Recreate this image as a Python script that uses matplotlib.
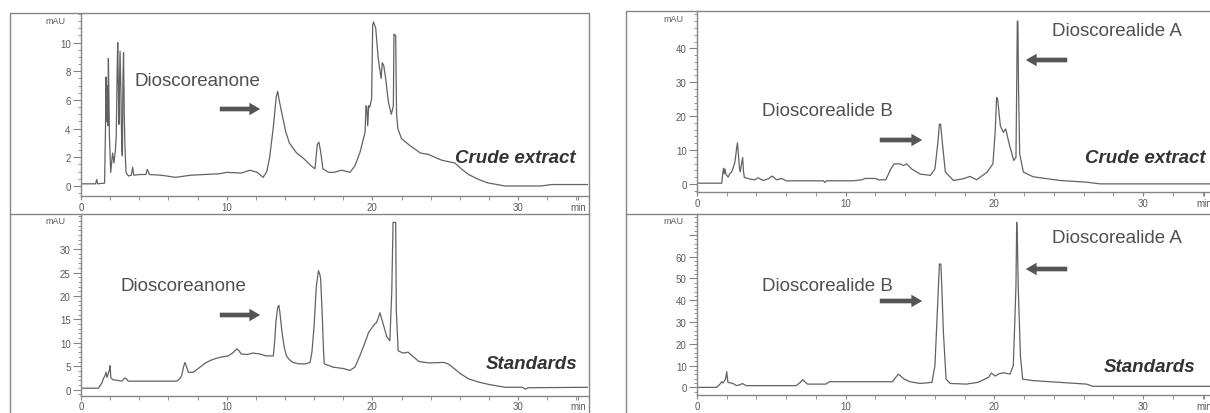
import matplotlib
matplotlib.use("Agg")
import matplotlib.pyplot as plt
from matplotlib.patches import Rectangle, FancyArrowPatch
from matplotlib.lines import Line2D
from matplotlib.ticker import MultipleLocator

plt.rcParams['font.family'] = ['Liberation Sans', 'DejaVu Sans']

# --- chromatogram traces (time in min, signal in mAU) ---
crude_dn_t = [0.0, 1.0, 1.08, 1.14, 1.62, 1.68, 1.72, 1.76, 1.8, 1.84, 1.88, 1.92, 1.95, 2.04,
              2.12, 2.17, 2.26, 2.36, 2.42, 2.48, 2.52, 2.57, 2.6, 2.64, 2.68, 2.74, 2.8, 2.84,
              2.88, 2.92, 2.97, 3.02, 3.09, 3.25, 3.45, 3.55, 3.62, 4.05, 4.45, 4.55, 4.7, 5.5,
              6.5, 7.5, 8.5, 9.5, 10.0, 11.0, 11.6, 12.1, 12.5, 12.75, 12.95, 13.2, 13.4, 13.5,
              13.6, 13.8, 14.05, 14.3, 14.8, 15.3, 15.8, 16.06, 16.22, 16.33, 16.45, 16.6, 17.0,
              17.35, 17.9, 18.46, 18.8, 19.15, 19.5, 19.56, 19.62, 19.68, 19.75, 19.82, 19.95,
              20.02, 20.08, 20.23, 20.4, 20.6, 20.68, 20.78, 20.9, 21.1, 21.3, 21.44, 21.48,
              21.6, 21.66, 21.75, 22.0, 22.6, 23.3, 23.85, 24.75, 25.66, 26.1, 26.6, 27.3, 27.9,
              29.1, 30.5, 31.6, 32.3, 34.8]
crude_dn_v = [0.15, 0.15, 0.45, 0.15, 0.2, 4.0, 7.6, 4.5, 7.0, 4.2, 8.9, 6.0, 3.5, 0.95,
              1.8, 2.3, 1.6, 2.5, 3.5, 8.0, 10.0, 6.5, 4.3, 7.0, 9.4, 6.5, 2.5, 2.1,
              7.5, 9.3, 5.0, 2.6, 0.95, 0.7, 0.75, 1.3, 0.75, 0.8, 0.8, 1.15, 0.8, 0.75,
              0.6, 0.75, 0.8, 0.85, 0.95, 0.9, 1.1, 0.95, 0.6, 1.0, 2.0, 4.1, 6.2, 6.6,
              6.0, 5.0, 3.8, 3.0, 2.3, 1.9, 1.4, 1.2, 2.9, 3.05, 2.4, 1.2, 0.95,
              0.95, 1.1, 0.95, 1.4, 2.35, 3.75, 5.6, 5.5, 4.2, 5.6, 5.5, 6.1,
              11.2, 11.45, 11.0, 8.9, 7.5, 8.6, 8.4, 7.6, 5.85, 5.0, 5.6, 10.6,
              10.5, 5.0, 4.0, 3.3, 2.8, 2.3, 2.2, 1.8, 1.6, 1.2, 0.8, 0.45, 0.22,
              0.0, 0.0, 0.0, 0.1, 0.1]

std_dn_t = [0.0, 1.19, 1.45, 1.53, 1.65, 1.72, 1.78, 1.85, 1.95, 1.99, 2.05, 2.2, 2.45, 2.8,
            2.95, 3.03, 3.15, 3.25, 4.0, 5.0, 6.0, 6.57, 6.8, 6.91, 7.05, 7.14, 7.25, 7.37,
            7.71, 8.17, 8.5, 8.86, 9.2, 9.54, 10.1, 10.4, 10.7, 10.85, 11.0, 11.4, 11.8, 12.3,
            12.7, 13.2, 13.3, 13.38, 13.5, 13.58, 13.65, 13.8, 13.95, 14.1, 14.3, 14.55, 14.96,
            15.4, 15.72, 15.85, 16.0, 16.15, 16.3, 16.4, 16.45, 16.56, 16.65, 16.7, 17.3, 18.0,
            18.46, 18.8, 19.15, 19.5, 19.74, 20.08, 20.3, 20.52, 20.75, 21.0, 21.2, 21.33,
            21.42, 21.6, 21.64, 21.77, 22.1, 22.45, 22.7, 23.2, 23.85, 24.9, 25.2, 25.5, 26.0,
            26.6, 27.3, 28.0, 29.1, 30.3, 30.5, 30.7, 34.8]
std_dn_v = [0.3, 0.3, 1.5, 2.3, 3.0, 3.7, 2.6, 3.2, 4.2, 5.1, 2.5, 2.1, 2.0, 1.8,
            2.3, 2.5, 2.2, 1.8, 1.8, 1.8, 1.8, 1.8, 2.4, 3.0, 5.0, 5.8, 4.8, 3.7,
            3.7, 4.8, 5.6, 6.2, 6.6, 6.9, 7.2, 7.8, 8.7, 8.3, 7.6, 7.5, 7.8, 7.6,
            7.2, 7.2, 10.5, 14.5, 17.6, 18.0, 16.5, 12.2, 9.0, 7.2, 6.4, 5.8, 5.5,
            5.5, 5.8, 8.0, 13.6, 22.0, 25.4, 24.5, 23.6, 15.8, 8.0, 5.5, 4.8, 4.5,
            4.1, 4.8, 7.3, 10.1, 12.2, 13.7, 14.4, 16.4, 13.9, 11.2, 10.45, 20.8,
            35.7, 35.7, 17.0, 8.3, 7.8, 8.0, 7.3, 6.0, 5.7, 5.8, 5.5, 4.8, 3.5,
            2.3, 1.6, 1.1, 0.5, 0.5, 0.1, 0.4, 0.5]

crude_dl_t = [0.0, 1.66, 1.73, 1.78, 1.83, 1.88, 1.95, 2.1, 2.2, 2.33, 2.45, 2.55, 2.65, 2.72,
              2.78, 2.85, 2.9, 3.0, 3.07, 3.12, 3.18, 3.56, 3.9, 4.1, 4.45, 4.8, 5.06, 5.35,
              5.68, 6.0, 7.5, 8.5, 8.6, 8.7, 10.5, 11.1, 11.3, 12.0, 12.2, 12.7, 13.03, 13.26,
              13.65, 13.9, 14.1, 14.44, 15.0, 15.7, 16.0, 16.2, 16.3, 16.38, 16.5, 16.7, 17.25,
              17.9, 18.35, 18.8, 19.5, 19.9, 20.05, 20.15, 20.22, 20.4, 20.6, 20.75, 20.8, 20.97,
              21.3, 21.45, 21.5, 21.54, 21.58, 21.62, 21.7, 21.95, 22.6, 24.4, 26.2, 27.1, 34.8]
crude_dl_v = [0.2, 0.2, 2.9, 4.6, 3.0, 4.4, 2.8, 2.0, 3.0, 3.5, 5.0, 6.4, 10.0, 12.1,
              8.8, 5.0, 3.5, 6.0, 7.8, 4.0, 1.9, 1.4, 1.2, 1.8, 1.0, 1.5, 2.3, 1.2,
              1.6, 0.9, 0.9, 0.9, 0.4, 0.9, 0.9, 1.2, 1.6, 1.6, 1.2, 1.2, 4.4, 5.9,
              5.9, 5.4, 5.9, 4.4, 2.9, 2.5, 4.4, 12.2, 17.6, 17.6, 12.2, 3.5, 1.0,
              1.5, 2.2, 1.2, 3.4, 5.9, 15.2, 25.5, 25.0, 17.1, 15.2, 16.2, 15.5, 12.2,
              6.9, 7.8, 28.9, 48.0, 48.0, 28.9, 8.8, 3.5, 2.1, 1.0, 0.5, 0.0, 0.0]

std_dl_t = [0.0, 1.32, 1.55, 1.66, 1.75, 1.85, 1.92, 2.0, 2.08, 2.42, 2.65, 2.9, 3.05, 3.3,
            6.66, 6.9, 7.1, 7.44, 8.67, 8.9, 13.14, 13.35, 13.55, 13.93, 14.32, 15.0, 15.8,
            16.0, 16.17, 16.3, 16.4, 16.46, 16.57, 16.75, 17.03, 18.1, 18.9, 19.6, 19.8, 20.05,
            20.3, 20.6, 21.05, 21.27, 21.4, 21.45, 21.5, 21.55, 21.6, 21.75, 21.9, 22.6, 24.4,
            26.2, 26.6, 34.8]
std_dl_v = [0.0, 0.0, 1.5, 2.6, 2.0, 3.0, 3.8, 7.2, 2.3, 1.8, 0.8, 1.2, 1.8, 0.8,
            0.8, 2.0, 3.5, 1.5, 1.5, 2.6, 2.6, 4.5, 6.1, 3.8, 2.6, 1.8, 2.3,
            9.9, 36.0, 56.6, 56.6, 46.7, 25.3, 3.8, 1.8, 1.5, 2.3, 4.6, 6.6, 5.2,
            6.2, 6.7, 6.1, 9.9, 36.0, 46.7, 75.8, 66.6, 46.7, 14.5, 3.8, 3.1, 2.3,
            1.5, 0.5, 0.5]

x_ticks = [0, 10, 20, 30, 34.1]
x_labels = ['0', '10', '20', '30', 'min']

W, H = 1210, 414
GRAY = '#858585'
TXT = '#5a5a5a'


def fx(x):
    return x / W


def fy(y):
    return 1 - y / H


def setup_axes(ax, ylim, yticks, ylabels, ymin_step):
    ax.set_facecolor('none')
    ax.set_xlim(0, 34.8)
    ax.set_ylim(*ylim)
    for s in ['top', 'right']:
        ax.spines[s].set_visible(False)
    for s in ['left', 'bottom']:
        ax.spines[s].set_color(GRAY)
        ax.spines[s].set_linewidth(1.0)
    ax.set_xticks(x_ticks)
    ax.set_xticklabels(x_labels)
    ax.xaxis.set_minor_locator(MultipleLocator(2))
    ax.set_yticks(yticks)
    ax.set_yticklabels(ylabels)
    ax.yaxis.set_minor_locator(MultipleLocator(ymin_step))
    ax.tick_params(axis='x', which='major', length=3, pad=1, color=GRAY,
                   labelsize=7, labelcolor=TXT)
    ax.tick_params(axis='x', which='minor', length=3, color=GRAY)
    ax.tick_params(axis='y', which='major', length=6, pad=1.5, color=GRAY,
                   labelsize=7, labelcolor=TXT)
    ax.tick_params(axis='y', which='minor', length=2, color=GRAY)


fig = plt.figure(figsize=(W / 100, H / 100), dpi=100)

# outer panel frames and dividers
for x0, x1, y0 in [(10, 589, 14), (626, 1240, 12)]:
    fig.add_artist(Rectangle((fx(x0), fy(420)), fx(x1 - x0), (420 - y0) / H,
                             transform=fig.transFigure, fill=False,
                             edgecolor=GRAY, linewidth=1.0))
    fig.add_artist(Line2D([fx(x0), fx(x1)], [fy(215), fy(215)],
                          transform=fig.transFigure, color=GRAY, linewidth=1.0))

ax_tl = fig.add_axes([fx(81), fy(197), 507 / W, 182 / H])
ax_bl = fig.add_axes([fx(81), fy(396.7), 507 / W, 181.7 / H])
ax_tr = fig.add_axes([fx(697), fy(193), 34.8 * 14.87 / W, 181 / H])
ax_br = fig.add_axes([fx(697), fy(396), 34.8 * 14.87 / W, 181 / H])

setup_axes(ax_tl, (-0.7, 12.0), [0, 2, 4, 6, 8, 10], ['0', '2', '4', '6', '8', '10'], 0.5)
setup_axes(ax_bl, (-1.3, 37.5), [0, 5, 10, 15, 20, 25, 30],
           ['0', '5', '10', '15', '20', '25', '30'], 1)
setup_axes(ax_tr, (-2.4, 51.0), [0, 10, 20, 30, 40], ['0', '10', '20', '30', '40'], 2)
setup_axes(ax_br, (-3.5, 79.6), [0, 10, 20, 30, 40, 50, 60, 70],
           ['0', '10', '20', '30', '40', '50', '60', ''], 2)

line_kw = dict(color='#626262', linewidth=0.9)
ax_tl.plot(crude_dn_t, crude_dn_v, **line_kw)
ax_bl.plot(std_dn_t, std_dn_v, **line_kw)
ax_tr.plot(crude_dl_t, crude_dl_v, **line_kw)
ax_br.plot(std_dl_t, std_dl_v, **line_kw)

# mAU labels
for x, y in [(66, 22), (66, 222), (684, 19), (684, 222)]:
    fig.text(fx(x), fy(y), 'mAU', ha='right', va='center', fontsize=6.5, color=TXT)

# compound names
name_kw = dict(fontsize=13.5, color='#505050', va='center', ha='left')
fig.text(fx(135), fy(81), 'Dioscoreanone', **name_kw)
fig.text(fx(120), fy(287), 'Dioscoreanone', **name_kw)
fig.text(fx(762), fy(111), 'Dioscorealide B', **name_kw)
fig.text(fx(1052), fy(31), 'Dioscorealide A', **name_kw)
fig.text(fx(762), fy(287), 'Dioscorealide B', **name_kw)
fig.text(fx(1052), fy(239), 'Dioscorealide A', **name_kw)

# sample labels
tag_kw = dict(fontsize=13.5, color='#333333', va='center', fontweight='bold', style='italic')
fig.text(fx(576), fy(159), 'Crude extract', ha='right', **tag_kw)
fig.text(fx(577), fy(365), 'Standards', ha='right', **tag_kw)
fig.text(fx(1085), fy(159), 'Crude extract', ha='left', **tag_kw)
fig.text(fx(1195), fy(367), 'Standards', ha='right', **tag_kw)

# arrows
arrows = [((217, 110), (263, 110)), ((217, 316), (263, 316)),
          ((877, 141), (925, 141)), ((1070, 61), (1023, 61)),
          ((877, 302), (925, 302)), ((1070, 270), (1023, 270))]
for (x0, y0), (x1, y1) in arrows:
    fig.add_artist(FancyArrowPatch(
        (fx(x0), fy(y0)), (fx(x1), fy(y1)), transform=fig.transFigure,
        arrowstyle='simple,head_width=0.75,head_length=0.65,tail_width=0.28',
        mutation_scale=12, color='#555555', linewidth=0))

fig.savefig('out.png', dpi=100)
